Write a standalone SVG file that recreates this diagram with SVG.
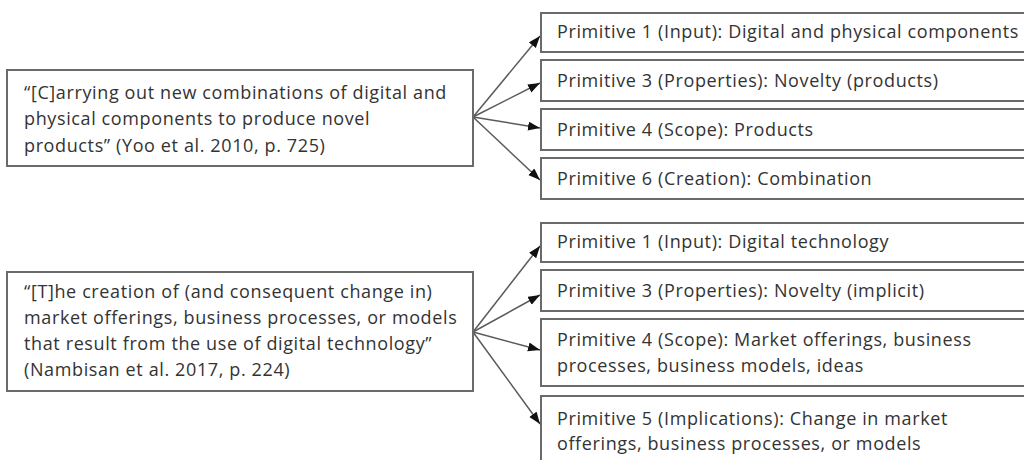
<svg xmlns="http://www.w3.org/2000/svg" width="1024" height="460" viewBox="0 0 1024 460">
<style>
.box{fill:#fff;stroke:#6a6a6a;stroke-width:2}
.t{font-family:"Open Sans","Liberation Sans",sans-serif;font-size:18px;letter-spacing:0.62px;fill:#333}
.c{stroke:#5a5a5a;stroke-width:1.5;fill:none}
</style>
<defs>
<marker id="ah" markerUnits="userSpaceOnUse" markerWidth="13" markerHeight="10" refX="12" refY="4.5" orient="auto">
<path d="M0,0 L12,4.5 L0,9 z" fill="#111"/>
</marker>
</defs>
<rect width="1024" height="460" fill="#fff"/>
<g id="connectors">
<line class="c" x1="473" y1="117" x2="540" y2="36" marker-end="url(#ah)"/>
<line class="c" x1="473" y1="117" x2="540" y2="83" marker-end="url(#ah)"/>
<line class="c" x1="473" y1="117" x2="540" y2="128" marker-end="url(#ah)"/>
<line class="c" x1="473" y1="117" x2="540" y2="180" marker-end="url(#ah)"/>
<line class="c" x1="473" y1="332" x2="540" y2="246" marker-end="url(#ah)"/>
<line class="c" x1="473" y1="332" x2="540" y2="295" marker-end="url(#ah)"/>
<line class="c" x1="473" y1="332" x2="540" y2="350" marker-end="url(#ah)"/>
<line class="c" x1="473" y1="332" x2="540" y2="424" marker-end="url(#ah)"/>
</g>
<g id="def1">
<rect class="box" x="7" y="70" width="466" height="96"/>
<text class="t" x="24" y="99">“[C]arrying out new combinations of digital and</text>
<text class="t" x="24" y="125">physical components to produce novel</text>
<text class="t" x="24" y="152">products” (Yoo et al. 2010, p. 725)</text>
</g>
<g id="def2">
<rect class="box" x="7" y="272" width="466" height="119"/>
<text class="t" x="24" y="298">“[T]he creation of (and consequent change in)</text>
<text class="t" x="24" y="324">market offerings, business processes, or models</text>
<text class="t" x="24" y="350">that result from the use of digital technology”</text>
<text class="t" x="24" y="376">(Nambisan et al. 2017, p. 224)</text>
</g>
<g id="a1">
<rect class="box" x="541" y="13" width="500" height="39"/>
<text class="t" x="557" y="38">Primitive 1 (Input): Digital and physical components</text>
</g>
<g id="a3">
<rect class="box" x="541" y="60" width="500" height="41"/>
<text class="t" x="557" y="87">Primitive 3 (Properties): Novelty (products)</text>
</g>
<g id="a4">
<rect class="box" x="541" y="109" width="500" height="41"/>
<text class="t" x="557" y="136">Primitive 4 (Scope): Products</text>
</g>
<g id="a6">
<rect class="box" x="541" y="158" width="500" height="41"/>
<text class="t" x="557" y="185">Primitive 6 (Creation): Combination</text>
</g>
<g id="b1">
<rect class="box" x="541" y="223" width="500" height="39"/>
<text class="t" x="557" y="248">Primitive 1 (Input): Digital technology</text>
</g>
<g id="b3">
<rect class="box" x="541" y="270" width="500" height="41"/>
<text class="t" x="557" y="297">Primitive 3 (Properties): Novelty (implicit)</text>
</g>
<g id="b4">
<rect class="box" x="541" y="319" width="500" height="67"/>
<text class="t" x="557" y="346">Primitive 4 (Scope): Market offerings, business</text>
<text class="t" x="557" y="372">processes, business models, ideas</text>
</g>
<g id="b5">
<rect class="box" x="541" y="396" width="500" height="80"/>
<text class="t" x="557" y="425">Primitive 5 (Implications): Change in market</text>
<text class="t" x="557" y="450">offerings, business processes, or models</text>
</g>
</svg>
